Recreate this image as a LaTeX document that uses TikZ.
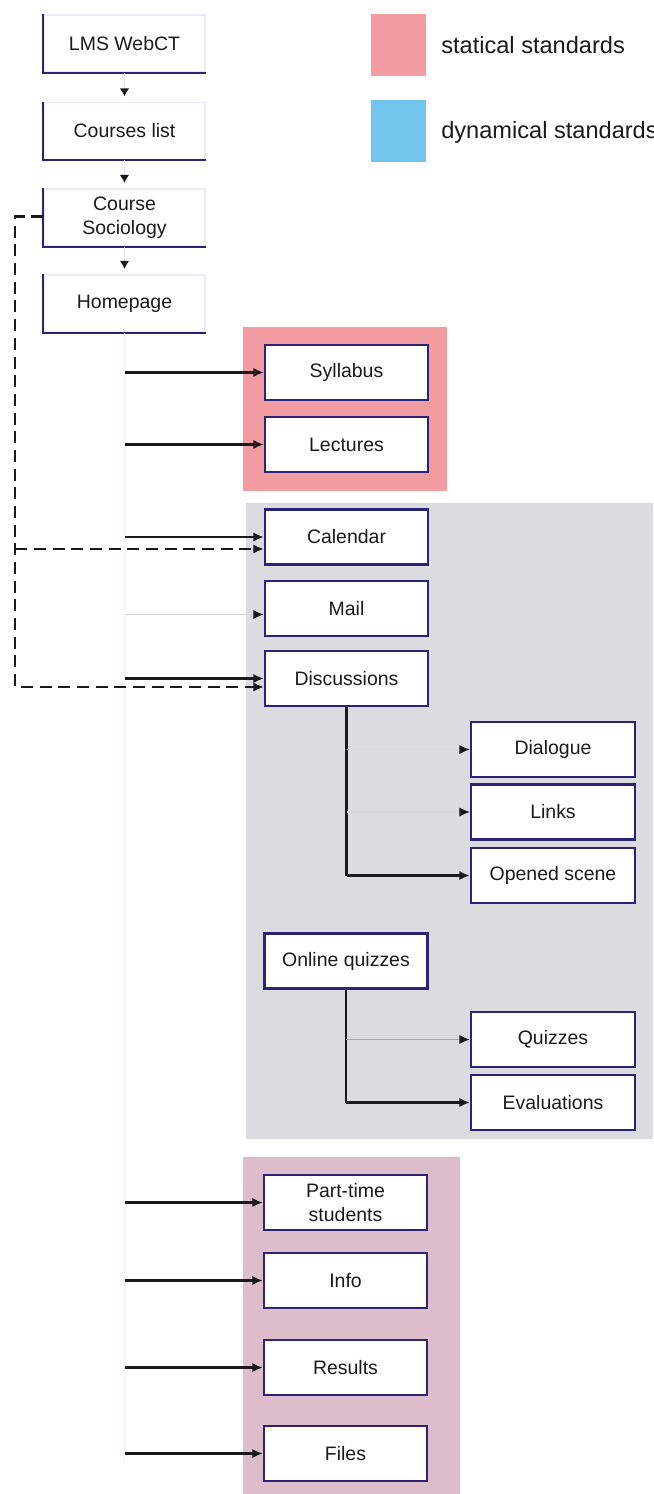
\documentclass[tikz,border=0pt]{standalone}
\usepackage{fontspec}
\setmainfont{Liberation Sans}
\usetikzlibrary{arrows.meta,calc}

\definecolor{navy}{HTML}{2B2378}
\definecolor{faint}{HTML}{ECE9F4}
\definecolor{trunk}{HTML}{F6EEF2}
\definecolor{staticpink}{HTML}{F09CA0}
\definecolor{dynblue}{HTML}{74C5EE}
\definecolor{dyngray}{HTML}{DCDCE0}
\definecolor{mauve}{HTML}{DDBDCA}
\definecolor{ink}{HTML}{1A1A1A}
\definecolor{thin}{HTML}{D8D4D4}

\tikzset{
  label font/.style={font=\fontsize{14.6}{18}\selectfont, text=ink, align=center},
  topbox/.style={label font, draw=faint, line width=1pt, fill=white,
    minimum width=120.75pt, minimum height=42.75pt, inner sep=0pt},
  pagebox/.style={label font, draw=navy, line width=1.6pt, fill=white,
    minimum width=122.25pt, minimum height=41.25pt, inner sep=0pt},
  subbox/.style={pagebox, minimum width=123pt},
  edge/.style={draw=navy, line width=1.6pt},
  tip/.style={-{Latex[length=8pt,width=7pt,ink]}},
  link/.style={draw=ink, line width=1.6pt, tip},
  weaklink/.style={draw=thin, line width=1pt, tip},
  greylink/.style={draw=gray!70, line width=1.3pt, tip},
  steplink/.style={draw=faint, line width=1pt, shorten >=4pt, -{Latex[length=6pt,width=7pt,ink]}},
  dashlink/.style={draw=ink, line width=1.6pt, dash pattern=on 9pt off 5pt, tip},
  legendtext/.style={font=\fontsize{17.7}{20}\selectfont, text=ink, anchor=west, inner sep=0pt},
}

\begin{document}
\begin{tikzpicture}[x=0.75pt,y=-0.75pt]
\useasboundingbox (0,0) rectangle (653,1494);
\fill[white] (0,0) rectangle (653,1494);

% group backgrounds
\fill[staticpink] (243,327) rectangle (447,491);
\fill[dyngray] (246,503) rectangle (653,1139);
\fill[mauve] (243,1157) rectangle (460,1494);

% legend
\fill[staticpink] (371,14) rectangle (426,76);
\fill[dynblue] (371,100) rectangle (426,162);
\node[legendtext] (legstat) at (441,45) {statical standards};
\node[legendtext] (legdyn) at (441,132) {dynamical standards};

% navigation chain
\node[topbox] (lms) at (124.5,43.5) {LMS WebCT};
\node[topbox] (courses) at (124.5,131) {Courses list};
\node[topbox] (cs) at (124.5,217.5) {Course\\Sociology};
\node[topbox] (home) at (124.5,303.5) {Homepage};
\foreach \b in {lms,courses,cs,home}
  \draw[edge] (\b.north west) -- (\b.south west) -- (\b.south east);
\draw[steplink] (lms) -- (courses);
\draw[steplink] (courses) -- (cs);
\draw[steplink] (cs) -- (home);

% course pages
\node[pagebox] (syl) at (346.5,372.5) {Syllabus};
\node[pagebox] (lec) at (346.5,444.5) {Lectures};
\node[pagebox] (cal) at (346.5,537) {Calendar};
\node[pagebox] (mail) at (346.5,608.5) {Mail};
\node[pagebox] (disc) at (346.5,678.5) {Discussions};
\node[pagebox] (oq) at (346,961) {Online quizzes};
\node[pagebox] (pt) at (345.5,1202.5) {Part-time\\students};
\node[pagebox] (info) at (345.5,1280.5) {Info};
\node[pagebox] (res) at (345.5,1367.5) {Results};
\node[pagebox] (files) at (345.5,1453.5) {Files};

% discussion and quiz sub-pages
\node[subbox] (dia) at (553,749.5) {Dialogue};
\node[subbox] (links) at (553,812) {Links};
\node[subbox] (open) at (553,875.5) {Opened scene};
\node[subbox] (quiz) at (553,1039.5) {Quizzes};
\node[subbox] (eval) at (553,1102.5) {Evaluations};

% homepage trunk and its branches
\coordinate (trunkend) at (home.south |- 0,1462);
\draw[trunk, line width=1pt] (home.south) -- (trunkend);
\foreach \t in {syl,lec,cal,disc,pt,info,res,files}
  \draw[link] (home.south |- \t.west) -- (\t.west);
\draw[weaklink] ($(home.south |- mail.west)+(0,6)$) -- ($(mail.west)+(0,6)$);

% sociology shortcut
\coordinate (bend) at ($(cs.west)+(-28,-1)$);
\draw[dashlink] ($(cs.west)+(0,-1)$) -- (bend) |- ($(disc.west)+(0,8.5)$);
\draw[dashlink] (bend |- 0,549) -- ($(cal.west)+(0,12)$);

% discussion branches
\coordinate (dtrunk) at (disc.south |- open.west);
\draw[ink, line width=1.6pt] (disc.south) -- (dtrunk);
\draw[weaklink] (disc.south |- dia.west) -- (dia.west);
\draw[weaklink] (disc.south |- links.west) -- (links.west);
\draw[link] (dtrunk) -- (open.west);

% quiz branches
\coordinate (qtrunk) at (oq.south |- eval.west);
\draw[ink, line width=1.6pt] (oq.south) -- (qtrunk);
\draw[greylink] (oq.south |- quiz.west) -- (quiz.west);
\draw[link] (qtrunk) -- (eval.west);
\end{tikzpicture}
\end{document}
